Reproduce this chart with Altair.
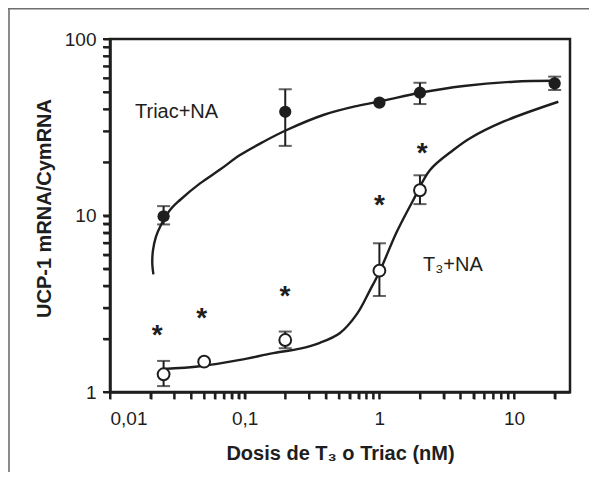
import altair as alt
import pandas as pd

# ---- data ----
triac_x = [0.025, 0.2, 1, 2, 20]
triac_y = [9.9, 38.7, 43.6, 49.6, 56.1]
triac_lo = [8.9, 24.8, 43.6, 42.8, 51.4]
triac_hi = [11.3, 51.9, 43.6, 56.5, 61.2]

t3_x = [0.025, 0.05, 0.2, 1, 2]
t3_y = [1.26, 1.485, 1.97, 4.87, 13.9]
t3_lo = [1.08, 1.485, 1.77, 3.5, 11.6]
t3_hi = [1.50, 1.485, 2.2, 6.96, 16.9]

ast_x = [0.0224, 0.048, 0.199, 1.0, 2.08]
ast_y = [2.27, 2.85, 3.78, 12.4, 24.3]

triac_curve_x = [0.021, 0.0206, 0.02086, 0.02195, 0.0239, 0.0279, 0.0331, 0.0466,
                 0.0656, 0.0923, 0.1368, 0.205, 0.383, 0.678, 1.069, 2.002, 4.225, 9.93, 20.1]
triac_curve_y = [4.64, 5.36, 6.37, 7.59, 8.84, 10.74, 12.24, 15.2,
                 18.2, 22.0, 26.1, 30.5, 37.1, 41.7, 44.7, 49.6, 54.2, 57.3, 58.0]

t3_curve_x = [0.02487, 0.0466, 0.0923, 0.163, 0.2574, 0.362, 0.51, 0.682, 0.852,
              1.01, 1.344, 1.785, 2.376, 3.54, 4.71, 8.31, 21.3]
t3_curve_y = [1.35, 1.40, 1.52, 1.66, 1.76, 1.90, 2.16, 2.77, 3.78,
              4.87, 8.06, 12.24, 18.1, 23.5, 27.4, 34.0, 44.1]

label_text = ["Triac+NA", "T\u2083+NA"]
label_x = [0.01533, 2.107]
label_y = [35.7, 4.87]

x_ticks = [0.01, 0.02, 0.03, 0.04, 0.05, 0.06, 0.07, 0.08, 0.09,
           0.1, 0.2, 0.3, 0.4, 0.5, 0.6, 0.7, 0.8, 0.9,
           1, 2, 3, 4, 5, 6, 7, 8, 9, 10, 20]
y_ticks = [1, 2, 3, 4, 5, 6, 7, 8, 9, 10, 20, 30, 40, 50, 60, 70, 80, 90, 100]

# ---- frames ----
pts_triac = pd.DataFrame({"x": triac_x, "y": triac_y, "lo": triac_lo, "hi": triac_hi})
pts_t3 = pd.DataFrame({"x": t3_x, "y": t3_y, "lo": t3_lo, "hi": t3_hi})
err = pd.concat([pts_triac, pts_t3])
err = err[err["hi"] > err["lo"]]
caps = pd.concat([err[["x"]].assign(y=err["lo"]), err[["x"]].assign(y=err["hi"])])
ast = pd.DataFrame({"x": ast_x, "y": ast_y})
curves = pd.concat([
    pd.DataFrame({"x": triac_curve_x, "y": triac_curve_y, "s": "triac",
                  "i": range(len(triac_curve_x))}),
    pd.DataFrame({"x": t3_curve_x, "y": t3_curve_y, "s": "t3",
                  "i": range(len(t3_curve_x))}),
])
labels = pd.DataFrame({"x": label_x, "y": label_y, "t": label_text})
xt = pd.DataFrame({"x": x_ticks})
yt = pd.DataFrame({"y": y_ticks})

FONT = "Liberation Sans"
INK = "#1e1e1e"
W, H = 460, 353

xscale = alt.Scale(type="log", domain=[0.01, 26], nice=False)
yscale = alt.Scale(type="log", domain=[1, 100], nice=False)

xaxis = alt.Axis(
    values=x_ticks,
    labelExpr="datum.value == 0.01 ? '0,01' : datum.value == 0.1 ? '0,1' : datum.value == 1 ? '1' : datum.value == 10 ? '10' : ''",
    title="Dosis de T\u2083 o Triac (nM)",
    grid=False, ticks=True, tickSize=7, tickWidth=2, tickColor=INK,
    domainColor=INK, domainWidth=2.5, labelOverlap=False,
    labelFont=FONT, labelFontSize=19, labelColor=INK, labelPadding=10,
    titleFont=FONT, titleFontSize=20, titleFontWeight="bold", titleColor=INK,
    titlePadding=15,
)
yaxis = alt.Axis(
    values=y_ticks,
    labelExpr="datum.value == 1 ? '1' : datum.value == 10 ? '10' : datum.value == 100 ? '100' : ''",
    title="UCP-1 mRNA/CymRNA",
    grid=False, ticks=True, tickSize=7, tickWidth=2, tickColor=INK,
    domainColor=INK, domainWidth=2.5, labelOverlap=False,
    labelFont=FONT, labelFontSize=19, labelColor=INK, labelPadding=7,
    titleFont=FONT, titleFontSize=20, titleFontWeight="bold", titleColor=INK,
    titlePadding=10, titleY=169,
)

X = alt.X("x:Q", scale=xscale, axis=xaxis)
Y = alt.Y("y:Q", scale=yscale, axis=yaxis)

one = pd.DataFrame({"a": [0]})
frame_top = alt.Chart(one).mark_rule(color="#6e6e6e", strokeWidth=1.6, clip=False).encode(
    x=alt.value(-102), x2=alt.value(479), y=alt.value(-30.2))
frame_left = alt.Chart(one).mark_rule(color="#6e6e6e", strokeWidth=1.6, clip=False).encode(
    x=alt.value(-101), y=alt.value(-31), y2=alt.value(440))

# outward tick marks drawn from the tick values (through the scales)
xtick_layer = alt.Chart(xt).mark_rule(color=INK, strokeWidth=2, clip=False).encode(
    x=X, y=alt.value(H), y2=alt.value(H + 7))
ytick_layer = alt.Chart(yt).mark_rule(color=INK, strokeWidth=2, clip=False).encode(
    y=Y, x=alt.value(0), x2=alt.value(-7))

curve_layer = alt.Chart(curves).mark_line(
    color=INK, strokeWidth=2.4, interpolate="catmull-rom").encode(
    x=X, y=Y, detail="s:N", order="i:Q")

err_layer = alt.Chart(err).mark_rule(color=INK, strokeWidth=2).encode(
    x=X, y=alt.Y("lo:Q", scale=yscale, axis=yaxis), y2="hi:Q")
cap_layer = alt.Chart(caps).mark_tick(
    color=INK, orient="horizontal", size=13, thickness=2).encode(x=X, y=Y)

filled = alt.Chart(pts_triac).mark_point(
    shape="circle", filled=True, size=150, color=INK, opacity=1).encode(x=X, y=Y)
opened = alt.Chart(pts_t3).mark_point(
    shape="circle", filled=False, size=140, stroke=INK, fill="white",
    strokeWidth=2, opacity=1, fillOpacity=1).encode(x=X, y=Y)

ast_layer = alt.Chart(ast).mark_text(
    text="*", font=FONT, fontSize=28, fontWeight="bold", color=INK,
    baseline="alphabetic", dy=15).encode(x=X, y=Y)

label_layer = alt.Chart(labels).mark_text(
    font=FONT, fontSize=20, color=INK, align="left", baseline="alphabetic").encode(
    x=X, y=Y, text="t:N")

chart = alt.layer(
    frame_top, frame_left, xtick_layer, ytick_layer, curve_layer, err_layer, cap_layer,
    filled, opened, ast_layer, label_layer,
).properties(
    width=W, height=H,
    background="white",
    autosize=alt.AutoSizeParams(type="none"),
    padding={"left": 102, "top": 31, "right": 19, "bottom": 80},
).configure_view(
    stroke=INK, strokeWidth=2.5
).configure_axis(
    ticks=True, tickSize=7, tickWidth=2, tickColor=INK
)

chart.save("out.html", embed_options={"renderer": "svg", "actions": False})
